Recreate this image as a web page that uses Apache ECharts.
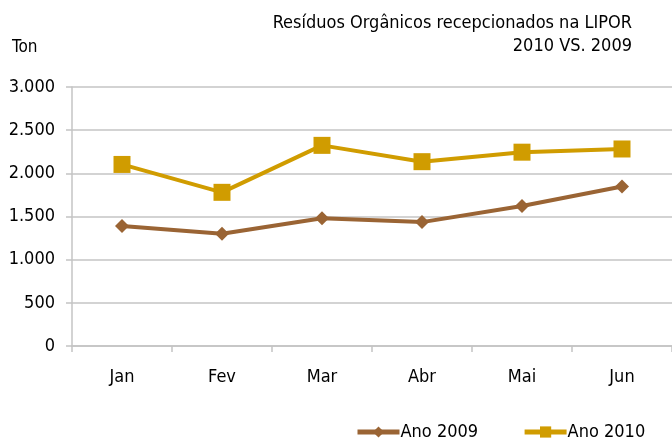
<!DOCTYPE html>
<html>
<head>
<meta charset="utf-8">
<script src="https://cdn.jsdelivr.net/npm/echarts@6/dist/echarts.min.js"></script>
<style>
  html, body { margin: 0; padding: 0; background: #fff; }
  #main { width: 672px; height: 438px; }
</style>
</head>
<body>
<div id="main"></div>
<script>
// dados
var meses = ['Jan', 'Fev', 'Mar', 'Abr', 'Mai', 'Jun'];
var ano2009 = [1390, 1300, 1480, 1435, 1622, 1847];
var ano2010 = [2103, 1780, 2324, 2135, 2245, 2282];
var yTicks = [0, 500, 1000, 1500, 2000, 2500, 3000];

var fonte = '"DejaVu Sans Condensed", "DejaVu Sans", sans-serif';
var corGrelha = '#c4c4c4';

function milhares(v) {
  return String(v).replace(/\B(?=(\d{3})+(?!\d))/g, '.');
}

var myChart = echarts.init(document.getElementById('main'));

var option = {
  animation: false,
  textStyle: { fontFamily: fonte, color: '#000' },
  graphic: [{
    type: 'text',
    x: 632,
    y: 12,
    style: {
      text: 'Resíduos Orgânicos recepcionados na LIPOR\n2010 VS. 2009',
      font: '18px ' + fonte, fill: '#000', align: 'right', lineHeight: 23
    }
  }, {
    type: 'text',
    left: 12,
    top: 39,
    style: { text: 'Ton', font: '17px ' + fonte, fill: '#000' }
  }],
  legend: {
    top: 418,
    left: 350,
    itemGap: 44,
    itemWidth: 42,
    itemHeight: 14,
    lineStyle: { width: 5 },
    textStyle: { fontFamily: fonte, fontSize: 18, color: '#000', padding: [0, 0, 0, -4] },
    data: ['Ano 2009', 'Ano 2010']
  },
  grid: { left: 72, right: 0, top: 87, bottom: 92, containLabel: false },
  xAxis: {
    type: 'category',
    data: meses,
    boundaryGap: true,
    axisLine: { lineStyle: { color: corGrelha, width: 1.5 } },
    axisTick: { show: true, length: 6, lineStyle: { color: corGrelha, width: 1.5 } },
    axisLabel: { fontFamily: fonte, fontSize: 18, color: '#000', margin: 22 }
  },
  yAxis: {
    type: 'value',
    min: 0,
    max: 3000,
    interval: 500,
    axisLine: { show: true, lineStyle: { color: corGrelha, width: 1.5 } },
    axisTick: { show: true, length: 6, lineStyle: { color: corGrelha, width: 1.5 } },
    splitLine: { lineStyle: { color: corGrelha, width: 1.5 } },
    axisLabel: {
      fontFamily: fonte, fontSize: 18, color: '#000', margin: 17,
      formatter: function (v) { return yTicks.indexOf(v) >= 0 ? milhares(v) : ''; }
    }
  },
  series: [{
    name: 'Ano 2009',
    type: 'line',
    data: ano2009,
    symbol: 'diamond',
    symbolSize: 14,
    itemStyle: { color: '#9a6434' },
    lineStyle: { color: '#9a6434', width: 4 }
  }, {
    name: 'Ano 2010',
    type: 'line',
    data: ano2010,
    symbol: 'rect',
    symbolSize: 17,
    itemStyle: { color: '#d09c00' },
    lineStyle: { color: '#d09c00', width: 4 }
  }]
};

myChart.setOption(option);
</script>
</body>
</html>
